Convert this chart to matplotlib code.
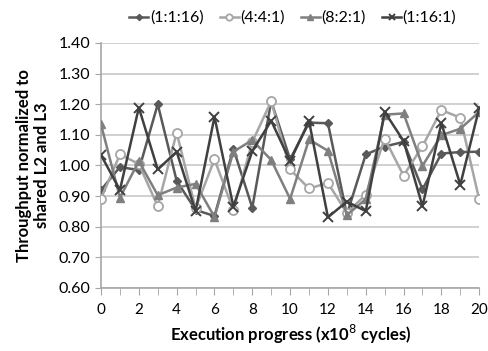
import numpy as np
import matplotlib.pyplot as plt

plt.rcParams['font.family'] = ['Lato', 'DejaVu Sans']

progress = list(range(21))

s_1_1_16 = [0.92, 0.995, 0.985, 1.20, 0.95, 0.855, 0.835, 1.055, 0.862, 1.21, 1.02,
            1.14, 1.138, 0.84, 1.036, 1.062, 1.077, 0.922, 1.039, 1.044, 1.045]
s_4_4_1 = [0.892, 1.036, 1.005, 0.867, 1.107, 0.86, 1.02, 0.854, 1.077, 1.21, 0.987,
           0.925, 0.943, 0.845, 0.905, 1.088, 0.967, 1.063, 1.181, 1.156, 0.889]
s_8_2_1 = [1.134, 0.895, 1.014, 0.903, 0.928, 0.94, 0.832, 1.045, 1.083, 1.018, 0.891,
           1.085, 1.048, 0.838, 0.89, 1.166, 1.17, 0.999, 1.099, 1.12, 1.175]
s_1_16_1 = [1.034, 0.92, 1.189, 0.987, 1.045, 0.851, 1.159, 0.866, 1.047, 1.146, 1.014,
            1.145, 0.831, 0.882, 0.851, 1.175, 1.08, 0.867, 1.138, 0.937, 1.188]

labels = ['(1:1:16)', '(4:4:1)', '(8:2:1)', '(1:16:1)']

fig = plt.figure(figsize=(4.88, 3.51), dpi=100)
ax = fig.add_axes([0.207, 0.1795, 0.775, 0.698])

ax.plot(progress, s_1_1_16, color='#595959', lw=1.8, marker='D', ms=4.5,
        label=labels[0], zorder=3)
ax.plot(progress, s_4_4_1, color='#a6a6a6', lw=1.8, marker='o', ms=6.5,
        mfc='white', mec='#a6a6a6', mew=1.3, label=labels[1], zorder=3)
ax.plot(progress, s_8_2_1, color='#7f7f7f', lw=1.8, marker='^', ms=6,
        label=labels[2], zorder=3)
ax.plot(progress, s_1_16_1, color='#404040', lw=1.8, marker='x', ms=7, mew=1.4,
        label=labels[3], zorder=3)

ax.set_xlim(0, 20)
ax.set_ylim(0.6, 1.4)
ax.set_yticks(np.arange(0.6, 1.41, 0.1))
ax.set_yticklabels([f'{v:.2f}' for v in np.arange(0.6, 1.41, 0.1)])
ax.set_xticks(range(0, 21, 2))
ax.set_xticks(range(0, 21), minor=True)
ax.tick_params(axis='x', which='both', direction='out', length=5, color='#a6a6a6',
               labelsize=11, pad=6, labelcolor='black')
ax.tick_params(axis='y', length=4, color='#a6a6a6', labelsize=11.5, labelcolor='black')
ax.grid(axis='y', color='#c8c8c8', lw=1.2)
ax.set_axisbelow(True)
for sp in ['top', 'right']:
    ax.spines[sp].set_visible(False)
ax.spines['left'].set_color('#a6a6a6')
ax.spines['bottom'].set_color('#a6a6a6')
ax.spines['left'].set_linewidth(1.2)
ax.spines['bottom'].set_linewidth(1.2)

ax.set_ylabel('Throughput normalized to\nshared L2 and L3', fontsize=12,
              fontweight='bold', labelpad=6)
ax.set_xlabel('Execution progress (x10$^{8}$ cycles)', fontsize=12,
              fontweight='bold', labelpad=4)

fig.legend(loc='upper center', bbox_to_anchor=(0.6, 1.01), ncol=4, frameon=False,
           fontsize=11.5, handlelength=1.2, handletextpad=0.1, columnspacing=1.0,
           markerscale=0.7)

fig.savefig('out.png', dpi=100)
